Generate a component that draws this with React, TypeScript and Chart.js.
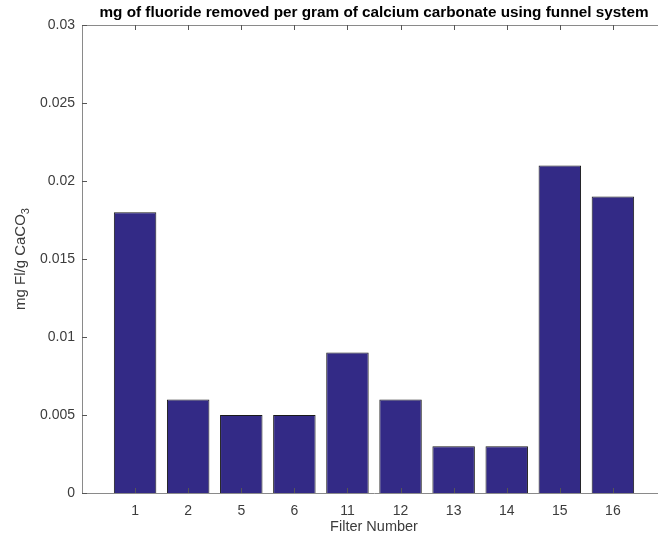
import React, { useEffect, useRef } from "react";
import { Chart, registerables } from "chart.js";

Chart.register(...registerables);

const filters = ["1", "2", "5", "6", "11", "12", "13", "14", "15", "16"];
const removed = [0.018, 0.006, 0.005, 0.005, 0.009, 0.006, 0.003, 0.003, 0.021, 0.019];
const yTicks = [0, 0.005, 0.01, 0.015, 0.02, 0.025, 0.03];
const titleText = "mg of fluoride removed per gram of calcium carbonate using funnel system";
const xTitle = "Filter Number";
const yTitleMain = "mg Fl/g CaCO";
const yTitleSub = "3";

const FONT = '"Liberation Sans", Arial, Helvetica, sans-serif';
const AXIS = "#8a8a8a";
const TEXT = "#3c3c3c";

export default function App() {
  const ref = useRef<HTMLCanvasElement | null>(null);
  useEffect(() => {
    const canvas = ref.current!;
    const decor = {
      id: "decor",
      afterDatasetsDraw(chart: any) {
        const { ctx, chartArea: a, scales } = chart;
        const xs = scales.x;
        const ys = scales.y;
        ctx.save();
        ctx.strokeStyle = AXIS;
        ctx.lineWidth = 1;
        // top border
        ctx.beginPath();
        ctx.moveTo(a.left, a.top + 0.5);
        ctx.lineTo(a.right, a.top + 0.5);
        ctx.stroke();
        // x ticks (inside, bottom and top)
        ctx.strokeStyle = "#555";
        filters.forEach((_, i) => {
          const px = Math.round(xs.getPixelForValue(i + 1)) + 0.5;
          ctx.beginPath();
          ctx.moveTo(px, a.bottom);
          ctx.lineTo(px, a.bottom - 5);
          ctx.moveTo(px, a.top);
          ctx.lineTo(px, a.top + 5);
          ctx.stroke();
        });
        yTicks.forEach((v) => {
          const py = Math.round(ys.getPixelForValue(v)) + 0.5;
          ctx.beginPath();
          ctx.moveTo(a.left, py);
          ctx.lineTo(a.left + 5, py);
          ctx.stroke();
        });
        // title
        ctx.fillStyle = "#000";
        ctx.font = "bold 15.3px " + FONT;
        ctx.textAlign = "center";
        ctx.textBaseline = "middle";
        const cx = (a.left + a.right) / 2;
        ctx.fillText(titleText, cx, 13);
        // x title
        ctx.fillStyle = TEXT;
        ctx.font = "14.5px " + FONT;
        ctx.fillText(xTitle, cx, 527);
        // y title with subscript
        ctx.translate(21, (a.top + a.bottom) / 2);
        ctx.rotate(-Math.PI / 2);
        ctx.font = "15px " + FONT;
        const w1 = ctx.measureText(yTitleMain).width;
        ctx.font = "11px " + FONT;
        const w2 = ctx.measureText(yTitleSub).width;
        const total = w1 + w2;
        ctx.textAlign = "left";
        ctx.font = "15px " + FONT;
        ctx.fillText(yTitleMain, -total / 2, 0);
        ctx.font = "11px " + FONT;
        ctx.fillText(yTitleSub, -total / 2 + w1, 5);
        ctx.restore();
      },
    };
    const chart = new Chart(canvas, {
      type: "bar",
      data: {
        datasets: [
          {
            data: removed.map((v, i) => ({ x: i + 1, y: v })),
            backgroundColor: "#332a86",
            borderColor: "#1a1a1a",
            borderWidth: 1,
            barPercentage: 0.8,
            categoryPercentage: 1,
          },
        ],
      },
      options: {
        responsive: false,
        animation: false,
        devicePixelRatio: 1,
        layout: { padding: { left: 0, top: 25, right: 14, bottom: 0 } },
        plugins: { legend: { display: false }, tooltip: { enabled: false }, title: { display: false } },
        scales: {
          x: {
            type: "linear",
            min: 0,
            max: 11,
            offset: false,
            grid: { display: false, drawTicks: false },
            border: { display: true, color: AXIS, width: 1 },
            ticks: {
              stepSize: 1,
              autoSkip: false,
              maxRotation: 0,
              padding: 10,
              color: TEXT,
              font: { family: FONT, size: 14 },
              callback: (v: any) => (v >= 1 && v <= filters.length ? filters[v - 1] : ""),
            },
            afterFit: (s: any) => {
              s.height = 46;
            },
          },
          y: {
            min: 0,
            max: 0.03,
            grid: { display: false, drawTicks: false },
            border: { display: true, color: AXIS, width: 1 },
            ticks: {
              stepSize: 0.005,
              padding: 7,
              color: TEXT,
              font: { family: FONT, size: 14 },
              callback: (v: any) => String(parseFloat(Number(v).toFixed(3))),
            },
            afterFit: (s: any) => {
              s.width = 82;
            },
          },
        },
      },
      plugins: [decor],
    } as any);
    return () => chart.destroy();
  }, []);
  return (
    <div style={{ position: "fixed", left: 0, top: 0, width: 658, height: 539, overflow: "hidden", background: "#fff" }}>
      <canvas ref={ref} width={680} height={539} style={{ position: "absolute", left: 0, top: 0, width: 680, height: 539 }} />
    </div>
  );
}
